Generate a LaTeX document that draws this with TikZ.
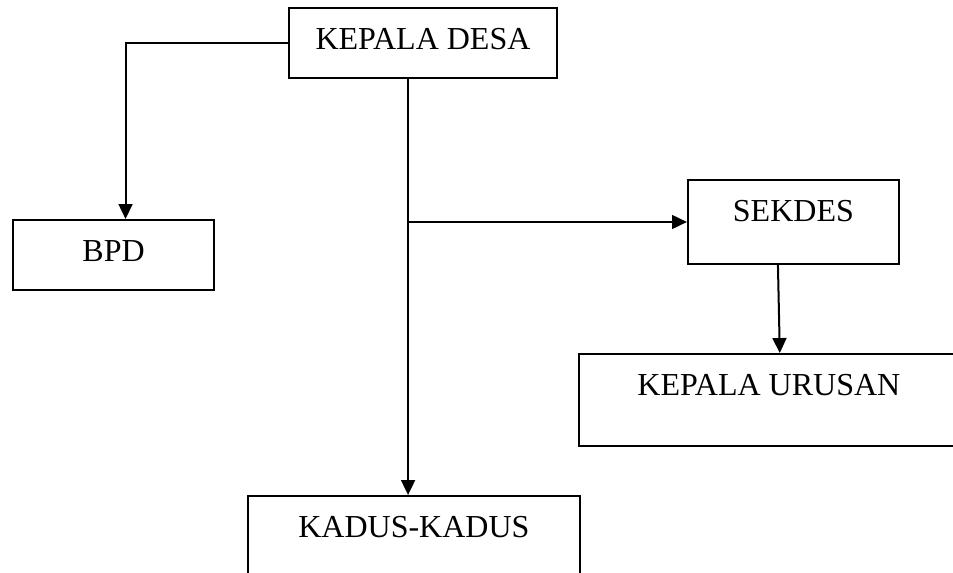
\documentclass[tikz,border=0pt]{standalone}
\usepackage{fontspec}
\setmainfont{Liberation Serif}
\usetikzlibrary{positioning,arrows.meta}
\tikzset{
	box/.style={draw, line width=0.75pt, font=\fontsize{12}{14}\selectfont, text height=8pt, inner ysep=7.5pt, anchor=north west},
	arr/.style={line width=0.75pt, -{Triangle[length=5.6pt,width=5.2pt]}}
}
\begin{document}
\begin{tikzpicture}
	\useasboundingbox (0,0) rectangle (357.375pt,-214.875pt);
	\node[box, minimum width=100.5pt, text depth=3.25pt] (kd) at (108pt,-2.625pt) {KEPALA DESA};
	\node[box, below right=79.5pt and -103.5pt of kd.north west, minimum width=75.4pt, text depth=3.25pt] (bpd) {BPD};
	\node[box, below right=64.5pt and 149.6pt of kd.north west, minimum width=79.1pt, text depth=8.5pt] (sekdes) {SEKDES};
	\node[box, below right=65.25pt and -40.9pt of sekdes.north west, minimum width=142.5pt, text depth=11.5pt] (ku) {KEPALA URUSAN};
	\node[box, below right=183pt and -15.4pt of kd.north west, minimum width=124.5pt, text depth=11.5pt] (kadus) {KADUS-KADUS};
	\coordinate (trunk) at ([xshift=-5.6pt]kd.south);
	\draw[arr] (kd.west) -| ([xshift=4.5pt]bpd.north);
	\draw[arr] (trunk) -- (trunk |- kadus.north);
	\draw[arr] (trunk |- sekdes.west) -- (sekdes.west);
	\draw[arr] ([xshift=-5.8pt]sekdes.south) -- ([xshift=4.1pt]ku.north);
\end{tikzpicture}
\end{document}
